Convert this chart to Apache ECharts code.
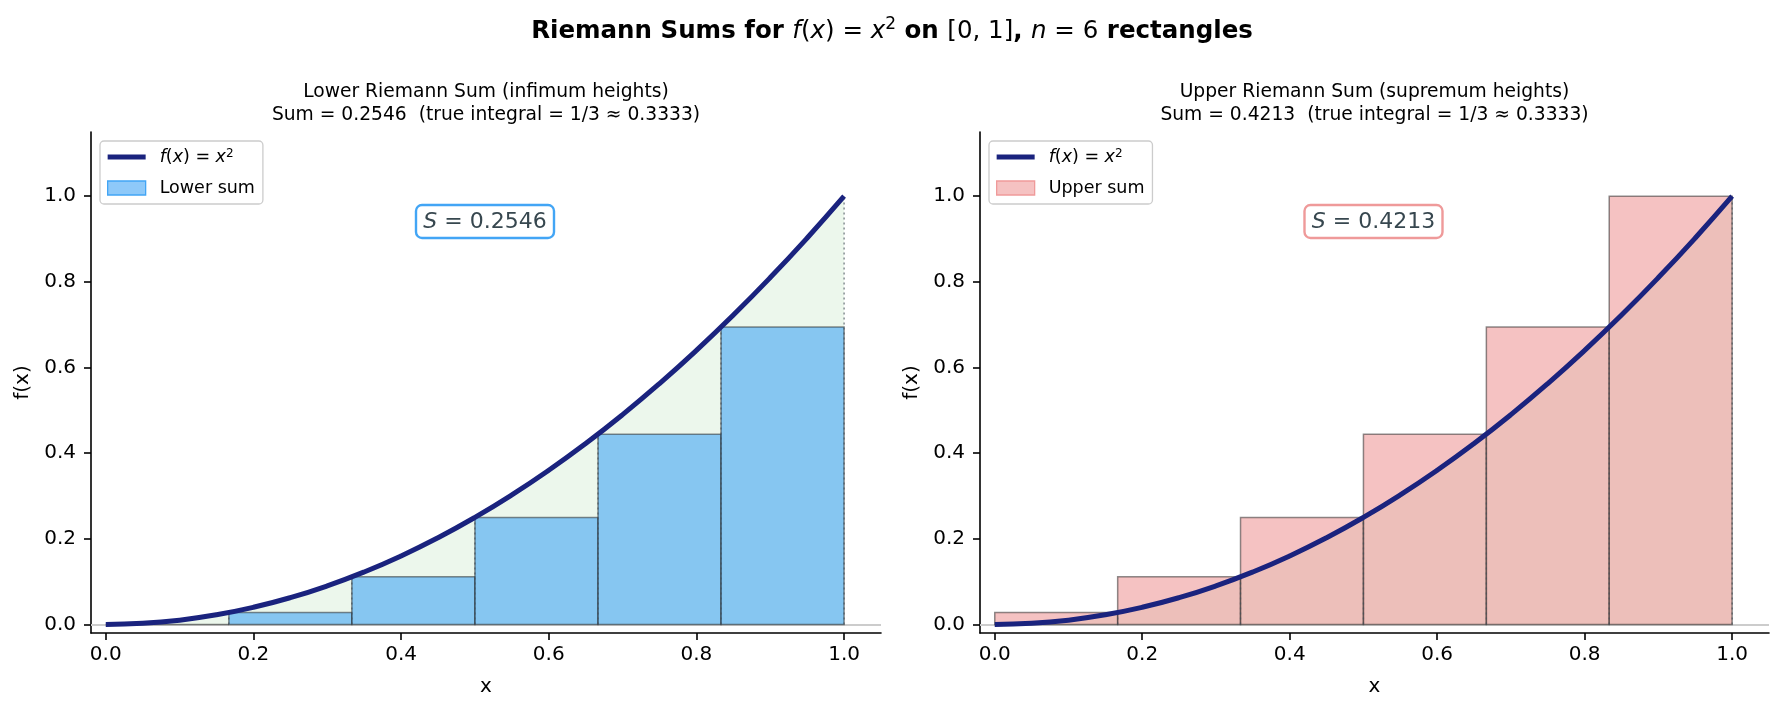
<!DOCTYPE html>
<html>
<head>
<meta charset="utf-8">
<script src="https://cdn.jsdelivr.net/npm/echarts@6/dist/echarts.min.js"></script>
<style>
  html, body { margin: 0; padding: 0; background: #fff; }
  #chart { width: 1784px; height: 711px; }
</style>
</head>
<body>
<div id="chart"></div>
<script>
// partition points and rectangle heights
var edges = [0, 0.1667, 0.3333, 0.5, 0.6667, 0.8333, 1.0];
var lowerHeights = [0, 0.0278, 0.1111, 0.25, 0.4444, 0.6944];
var upperHeights = [0.0278, 0.1111, 0.25, 0.4444, 0.6944, 1.0];
// f(x) = x^2 sampled
var curveX = [0, 0.05, 0.1, 0.15, 0.2, 0.25, 0.3, 0.35, 0.4, 0.45, 0.5,
              0.55, 0.6, 0.65, 0.7, 0.75, 0.8, 0.85, 0.9, 0.95, 1.0];
var curveY = [0, 0.0025, 0.01, 0.0225, 0.04, 0.0625, 0.09, 0.1225, 0.16, 0.2025, 0.25,
              0.3025, 0.36, 0.4225, 0.49, 0.5625, 0.64, 0.7225, 0.81, 0.9025, 1.0];
var tickValues = [0, 0.2, 0.4, 0.6, 0.8, 1.0];
var sums = [0.2546, 0.4213];
var trueIntegral = '1/3 \u2248 0.3333';

var FONT = 'DejaVu Sans';
var curveName = 'f(x) = x\u00b2';

var chart = echarts.init(document.getElementById('chart'), null, { renderer: 'canvas' });

var curveData = curveX.map(function (x, i) { return [x, curveY[i]]; });

function rectData(heights) {
  return heights.map(function (h, i) { return [edges[i], edges[i + 1], h]; });
}
// value of f at each partition point (top of the dotted guide)
var guideData = edges.map(function (x, i) { return [x, i === 0 ? 0 : upperHeights[i - 1]]; });

var grids = [
  { left: 91, top: 132, width: 790, height: 501 },
  { left: 980, top: 132, width: 789, height: 501 }
];

function xAxisFor(gi) {
  return {
    type: 'value', gridIndex: gi, min: -0.02, max: 1.05,
    axisLine: { show: true, onZero: false, lineStyle: { color: '#000', width: 1.6 } },
    axisTick: { show: true, length: 7, customValues: tickValues, lineStyle: { color: '#000', width: 1.6 } },
    axisLabel: {
      customValues: tickValues, margin: 12, color: '#000', fontFamily: FONT, fontSize: 20,
      formatter: function (v) { return v.toFixed(1); }
    },
    splitLine: { show: false },
    name: 'x', nameLocation: 'middle', nameGap: 44,
    nameTextStyle: { color: '#000', fontFamily: FONT, fontSize: 20 }
  };
}
function yAxisFor(gi) {
  return {
    type: 'value', gridIndex: gi, min: -0.02, max: 1.15,
    axisLine: { show: true, onZero: false, lineStyle: { color: '#000', width: 1.6 } },
    axisTick: { show: true, length: 7, customValues: tickValues, lineStyle: { color: '#000', width: 1.6 } },
    axisLabel: {
      customValues: tickValues, margin: 15, color: '#000', fontFamily: FONT, fontSize: 20,
      formatter: function (v) { return v.toFixed(1); }
    },
    splitLine: { show: false },
    name: 'f(x)', nameLocation: 'middle', nameGap: 58,
    nameTextStyle: { color: '#000', fontFamily: FONT, fontSize: 20 }
  };
}

function rectRender(fill, stroke) {
  return function (params, api) {
    var a = api.coord([api.value(0), api.value(2)]);
    var b = api.coord([api.value(1), 0]);
    return {
      type: 'rect',
      shape: { x: a[0], y: a[1], width: b[0] - a[0], height: b[1] - a[1] },
      style: { fill: fill, stroke: stroke, lineWidth: 1.5 }
    };
  };
}
function guideRender(params, api) {
  var a = api.coord([api.value(0), 0]);
  var b = api.coord([api.value(0), api.value(1)]);
  return {
    type: 'line',
    shape: { x1: a[0], y1: a[1], x2: b[0], y2: b[1] },
    style: { stroke: 'rgba(70,80,90,0.75)', lineWidth: 1.3, lineDash: [2, 3] }
  };
}

function seriesFor(gi, name, heights, fill) {
  return [
    {
      name: 'area' + gi, type: 'line', xAxisIndex: gi, yAxisIndex: gi, data: curveData,
      symbol: 'none', smooth: true, silent: true, z: 1,
      lineStyle: { width: 0, opacity: 0 }, areaStyle: { color: 'rgba(76,175,80,0.15)', origin: 0 },
      markLine: {
        silent: true, symbol: 'none', label: { show: false }, z: 1,
        lineStyle: { color: '#cccccc', width: 2, type: 'solid' },
        data: [{ yAxis: 0 }]
      }
    },
    {
      name: name, type: 'custom', xAxisIndex: gi, yAxisIndex: gi, z: 2, silent: true,
      data: rectData(heights), encode: { x: [0, 1], y: [2] },
      itemStyle: { color: fill },
      renderItem: rectRender(fill, 'rgba(30,30,30,0.5)')
    },
    {
      name: 'guides' + gi, type: 'custom', xAxisIndex: gi, yAxisIndex: gi, z: 3, silent: true,
      data: guideData, encode: { x: [0], y: [1] },
      renderItem: guideRender
    },
    {
      name: curveName, type: 'line', xAxisIndex: gi, yAxisIndex: gi, data: curveData,
      symbol: 'none', smooth: true, z: 10, silent: true,
      itemStyle: { color: '#1a237e' },
      lineStyle: { color: '#1a237e', width: 5, cap: 'butt' }
    }
  ];
}

var legendRich = {
  i: { fontFamily: FONT, fontStyle: 'italic', fontSize: 17.5, color: '#000', padding: [0, 0, 0, 9] },
  j: { fontFamily: FONT, fontStyle: 'italic', fontSize: 17.5, color: '#000' },
  m: { fontFamily: FONT, fontSize: 17.5, color: '#000' },
  s: { fontFamily: FONT, fontSize: 12, color: '#000', verticalAlign: 'top' },
  p: { fontFamily: FONT, fontSize: 17.5, color: '#000', padding: [0, 0, 0, 9] }
};

function legendFor(left, name, fill, border) {
  return {
    orient: 'vertical', left: left, top: 141,
    padding: [7, 8, 7, 7], itemGap: 13, itemWidth: 38, itemHeight: 14,
    backgroundColor: 'rgba(255,255,255,0.8)', borderColor: '#cccccc', borderWidth: 1.3, borderRadius: 4,
    selectedMode: false,
    data: [
      { name: curveName, icon: 'path://M0,0H38V5H0Z', itemStyle: { color: '#1a237e' } },
      { name: name, icon: 'rect', itemStyle: { color: fill, borderColor: border, borderWidth: 1.3 } }
    ],
    textStyle: { fontFamily: FONT, fontSize: 17.5, color: '#000', rich: legendRich },
    formatter: function (n) {
      if (n === curveName) return '{i|f}{m|(}{j|x}{m|) = }{j|x}{s|2}';
      return '{p|' + n + '}';
    }
  };
}

function subTitle(cx, kind, sum) {
  return {
    text: kind + ' Riemann Sum (' + (kind === 'Lower' ? 'infimum' : 'supremum') + ' heights)\n' +
          'Sum = ' + sum.toFixed(4) + '  (true integral = ' + trueIntegral + ')',
    left: cx, top: 81, textAlign: 'center', padding: 0,
    textStyle: { fontFamily: FONT, fontSize: 18.7, fontWeight: 'normal', color: '#000', lineHeight: 22.5 }
  };
}

function sumBox(cx, sum, border) {
  return {
    text: '{i|S}{m| = ' + sum.toFixed(4) + '}',
    left: cx - 9, top: 205, textAlign: 'center',
    padding: [6, 8, 5, 8], borderColor: border, borderWidth: 2.4, borderRadius: 6, backgroundColor: '#fff',
    textStyle: {
      fontWeight: 'normal',
      rich: {
        i: { fontFamily: FONT, fontStyle: 'italic', fontWeight: 'normal', fontSize: 22, color: '#37474F' },
        m: { fontFamily: FONT, fontWeight: 'normal', fontSize: 22, color: '#37474F' }
      }
    }
  };
}

var titleRich = {
  b: { fontFamily: FONT, fontWeight: 'bold', fontSize: 24.5, color: '#000', lineHeight: 32 },
  i: { fontFamily: FONT, fontStyle: 'italic', fontWeight: 'normal', fontSize: 24.5, color: '#000', lineHeight: 32 },
  m: { fontFamily: FONT, fontWeight: 'normal', fontSize: 24.5, color: '#000', lineHeight: 32 },
  s: { fontFamily: FONT, fontWeight: 'normal', fontSize: 17, color: '#000', verticalAlign: 'top', lineHeight: 32 }
};

var option = {
  backgroundColor: '#ffffff',
  animation: false,
  title: [
    {
      text: '{b|Riemann Sums for }{i|f}{m|(}{i|x}{m|) = }{i|x}{s|2}{b| on }{m|[0, 1]}{b|, }{i|n}{m| = 6}{b| rectangles}',
      left: 892, top: 16, textAlign: 'center', padding: 0,
      textStyle: { fontWeight: 'normal', rich: titleRich }
    },
    subTitle(486, 'Lower', sums[0]),
    subTitle(1374.5, 'Upper', sums[1]),
    sumBox(486, sums[0], '#42A5F5'),
    sumBox(1374.5, sums[1], '#EF9A9A')
  ],
  legend: [
    legendFor(100, 'Lower sum', 'rgba(66,165,245,0.6)', '#42A5F5'),
    legendFor(989, 'Upper sum', 'rgba(239,154,154,0.6)', '#EF9A9A')
  ],
  grid: grids,
  xAxis: [xAxisFor(0), xAxisFor(1)],
  yAxis: [yAxisFor(0), yAxisFor(1)],
  series: seriesFor(0, 'Lower sum', lowerHeights, 'rgba(66,165,245,0.6)')
    .concat(seriesFor(1, 'Upper sum', upperHeights, 'rgba(239,154,154,0.6)'))
};

chart.setOption(option);
</script>
</body>
</html>
